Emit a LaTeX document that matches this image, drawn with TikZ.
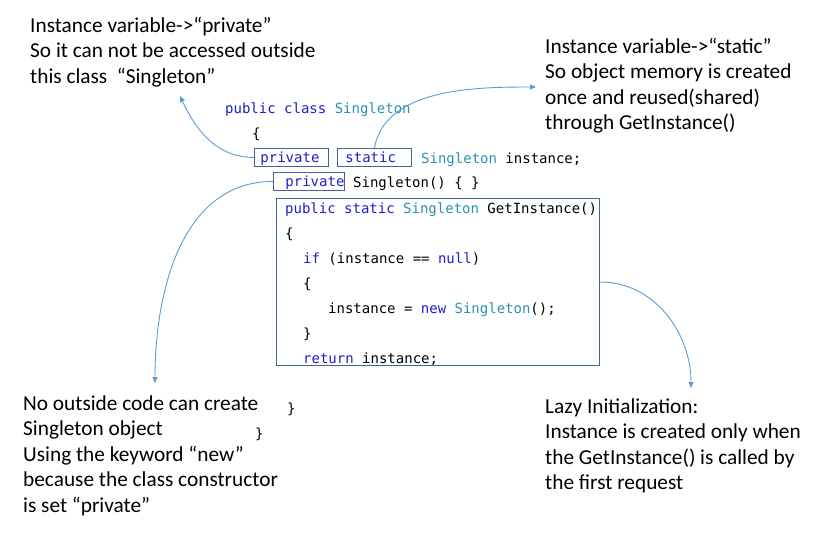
\documentclass[tikz,border=0pt]{standalone}
\usepackage{fontspec}
\setmainfont{Carlito}
\newfontfamily\codefont{DejaVu Sans Mono}
\usetikzlibrary{arrows.meta,positioning}
\definecolor{kwblue}{RGB}{30,30,205}
\definecolor{typeteal}{RGB}{43,145,175}
\definecolor{boxline}{RGB}{65,100,150}
\definecolor{calloutblue}{RGB}{91,155,213}
\newcommand{\kw}[1]{\textcolor{kwblue}{#1}}
\newcommand{\tp}[1]{\textcolor{typeteal}{#1}}

\begin{document}
\begin{tikzpicture}[x=1pt,y=1pt,>={Triangle[length=6pt,width=5pt]}]
  \tikzstyle{note}=[anchor=north west,inner sep=0pt,align=left,font=\fontsize{21.3}{25.6}\selectfont]
  \tikzstyle{code}=[anchor=base west,inner sep=0pt,font=\codefont\fontsize{14}{16}\selectfont]
  \tikzstyle{kwbox}=[draw=boxline,line width=0.9pt,anchor=north west,inner ysep=1.5pt,text height=13pt,text depth=2pt,font=\codefont\fontsize{14}{16}\selectfont]
  \tikzstyle{link}=[draw=calloutblue,line width=0.9pt,->]
  \useasboundingbox (0,0) rectangle (825,-546);

  % notes
  \node[note] (privnote) at (30,-14) {\strut Instance variable->“private”\\So it can not be accessed outside\\this class~ “Singleton”};
  \node[note] (statnote) at (545,-35) {\strut Instance variable->“static”\\So object memory is created\\once and reused(shared)\\through GetInstance()};
  \node[note] (ctornote) at (23,-392) {\strut No outside code can create\\Singleton object\\Using the keyword “new”\\because the class constructor\\is set “private”};
  \node[note] (lazynote) at (545,-395) {\strut Lazy Initialization:\\Instance is created only when\\the GetInstance() is called by\\the first request};

  % class code
  \node[code] (cls) at (225,-113) {\kw{public class} \tp{Singleton}};
  \node[code] (clsopen) at (252,-138) {\{};
  \node[kwbox,inner xsep=6pt,text width=62pt] (privfield) at (254,-148) {\kw{private}};
  \node[kwbox,inner xsep=8pt,text width=58pt] (statfield) at (337,-148) {\kw{static}};
  \node[code] (field) at (421,-163) {\tp{Singleton} instance;};
  \node[kwbox,inner xsep=0pt,text width=71pt,align=right] (privctor) at (273,-172) {\kw{private}};
  \node[code] (ctor) at (353,-187) {Singleton() \{ \}};

  \node[draw=boxline,line width=0.9pt,anchor=north west,inner sep=0pt,minimum width=323pt,minimum height=167pt] (getbox) at (276,-198) {};
  \node[code] (get1) at (285,-213) {\kw{public static} \tp{Singleton} GetInstance()};
  \node[code] (get2) at (285,-238) {\{};
  \node[code] (get3) at (303,-263) {\kw{if} (instance == \kw{null})};
  \node[code] (get4) at (303,-288) {\{};
  \node[code] (get5) at (328,-313) {instance = \kw{new} \tp{Singleton}();};
  \node[code] (get6) at (303,-338) {\}};
  \node[code] (get7) at (303,-363) {\kw{return} instance;};
  \node[code] (getclose) at (287,-413) {\}};
  \node[code] (clsclose) at (255,-438) {\}};

  % callouts
  \coordinate (tipA) at (180,-96);
  \coordinate (tipB) at (536,-87);
  \coordinate (tipC) at (155,-383);
  \coordinate (tipD) at (691,-388);
  \draw[link] (privfield.west) to[out=180,in=-65] (tipA);
  \draw[link] (statfield.north) to[out=80,in=180,looseness=0.9] (tipB);
  \draw[link] (privctor.west) to[out=180,in=90] (tipC);
  \draw[link] (getbox.east) to[out=0,in=90] (tipD);
\end{tikzpicture}
\end{document}
